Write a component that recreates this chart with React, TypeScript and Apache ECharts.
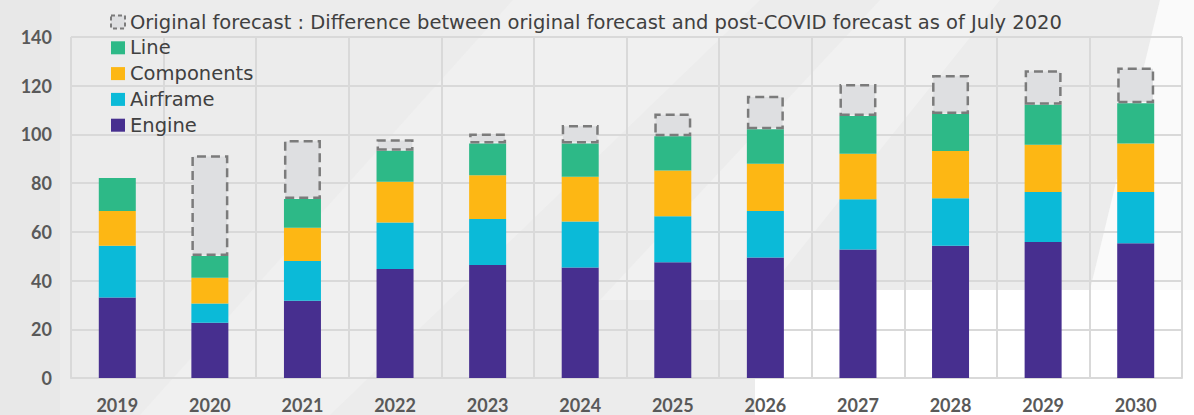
import React, { useEffect, useRef } from "react";
import * as echarts from "echarts";

const categories = ["2019", "2020", "2021", "2022", "2023", "2024", "2025", "2026", "2027", "2028", "2029", "2030"];
const engine = [33, 22.7, 31.7, 44.7, 46.4, 45.4, 47.5, 49.5, 52.8, 54.3, 55.8, 55.3];
const airframe = [21.3, 7.9, 16.3, 19.1, 18.9, 18.9, 18.9, 19.1, 20.6, 19.5, 20.6, 21.1];
const components = [14.3, 10.6, 13.7, 16.8, 17.9, 18.3, 18.8, 19.4, 18.7, 19.4, 19.4, 19.9];
const lineMaint = [13.5, 8.9, 11.8, 12.7, 13.1, 13.7, 14.1, 14.1, 15.5, 15.2, 16.4, 16.5];
const originalGap = [null, 41.4, 24.2, 4.7, 4.1, 7.6, 9.3, 13.8, 13.1, 16.0, 14.2, 14.7];

const ORIGINAL_NAME =
  "Original forecast : Difference between original forecast and post-COVID forecast as of July 2020";
const seriesNames = ["Engine", "Airframe", "Components", "Line", ORIGINAL_NAME];
const seriesColors = ["#472F8F", "#0BBAD8", "#FDB714", "#2DB987", "#DEDFE1"];
const legendOrder = [ORIGINAL_NAME, "Line", "Components", "Airframe", "Engine"];
const yTicks = { min: 0, max: 140, interval: 20 };

const FONT = "Lato, 'Open Sans', sans-serif";
const LEGEND_FONT = "'DejaVu Sans', 'Open Sans', sans-serif";

export default function App() {
  const ref = useRef<HTMLDivElement>(null);
  useEffect(() => {
    if (!ref.current) return;
    const chart = echarts.init(ref.current, null, { renderer: "svg" });
    const values = [engine, airframe, components, lineMaint, originalGap];
    const series = values.map((data, i) => {
      const isGap = i === 4;
      return {
        name: seriesNames[i],
        type: "bar",
        stack: "total",
        barWidth: 37,
        data,
        itemStyle: isGap
          ? {
              color: seriesColors[i],
              borderColor: "#7B7B7B",
              borderWidth: 2.5,
              borderType: [9, 5],
            }
          : { color: seriesColors[i] },
      };
    });
    const option = {
      animation: false,
      backgroundColor: "transparent",
      textStyle: { fontFamily: FONT },
      graphic: [
        { type: "rect", z: -100, silent: true, shape: { x: 0, y: 0, width: 1194, height: 415 }, style: { fill: "#ECECEC" } },
        { type: "rect", z: -99, silent: true, shape: { x: 0, y: 0, width: 60, height: 415 }, style: { fill: "#E8E8E8" } },
        { type: "polygon", z: -98, silent: true, shape: { points: [[140, 415], [513, 0], [760, 0], [330, 415]] }, style: { fill: "#F0F0F0" } },
        { type: "polygon", z: -98, silent: true, shape: { points: [[600, 300], [880, 0], [1000, 0], [760, 300]] }, style: { fill: "#F1F1F1" } },
        { type: "polygon", z: -97, silent: true, shape: { points: [[1090, 290], [1160, 0], [1194, 0], [1194, 290]] }, style: { fill: "#FAFAFA" } },
        { type: "rect", z: -97, silent: true, shape: { x: 755, y: 290, width: 439, height: 125 }, style: { fill: "#FFFFFF" } },
      ],
      grid: { left: 71, right: 12, top: 37, bottom: 37, containLabel: false },
      legend: {
        orient: "vertical",
        left: 105,
        top: 7,
        itemWidth: 14,
        itemHeight: 13,
        itemGap: 5.8,
        icon: "rect",
        textStyle: { fontSize: 19.5, color: "#404040", fontFamily: LEGEND_FONT, lineHeight: 20 },
        data: legendOrder.map((n) =>
          n === ORIGINAL_NAME
            ? { name: n, itemStyle: { color: "#DEDFE1", borderColor: "#7B7B7B", borderWidth: 2, borderType: [4, 3] } }
            : { name: n }
        ),
      },
      xAxis: {
        type: "category",
        data: categories,
        axisTick: { show: false },
        axisLine: { show: true, lineStyle: { color: "#D9D9D9", width: 2 } },
        splitLine: { show: true, lineStyle: { color: "#D9D9D9", width: 2 } },
        axisLabel: { fontSize: 18, fontWeight: "bold", color: "#595959", margin: 18, fontFamily: FONT },
      },
      yAxis: {
        type: "value",
        min: yTicks.min,
        max: yTicks.max,
        interval: yTicks.interval,
        axisLine: { show: false },
        axisTick: { show: false },
        splitLine: { show: true, lineStyle: { color: "#D9D9D9", width: 2 } },
        axisLabel: { fontSize: 18, fontWeight: "bold", color: "#595959", margin: 19, fontFamily: FONT },
      },
      series,
    };
    chart.setOption(option as any);
    return () => chart.dispose();
  }, []);
  return <div ref={ref} style={{ width: 1194, height: 415, position: "absolute", left: 0, top: 0 }} />;
}
